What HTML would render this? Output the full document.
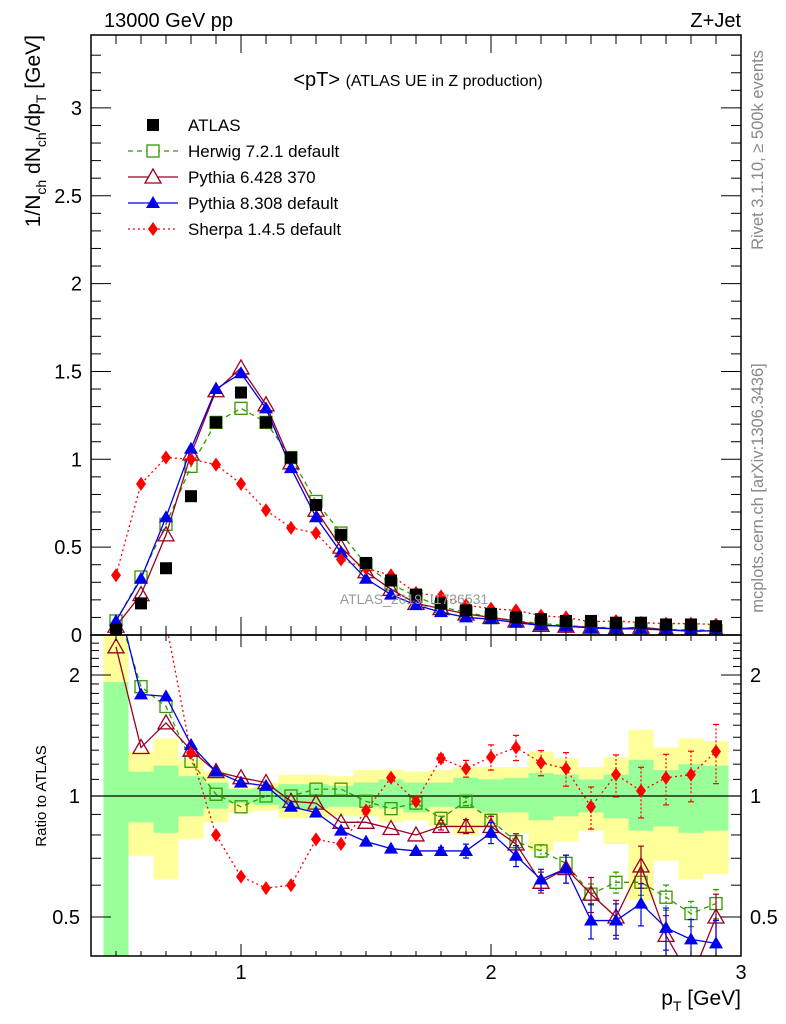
<!DOCTYPE html>
<html><head><meta charset="utf-8"><style>
html,body{margin:0;padding:0;background:#fff;}
svg{display:block;font-family:"Liberation Sans",Arial,sans-serif;}
</style></head><body>
<svg id="c" width="786" height="1024" viewBox="0 0 786 1024" xmlns="http://www.w3.org/2000/svg"></svg>
<script>
const xs=[0.5,0.6,0.7,0.8,0.9,1.0,1.1,1.2,1.3,1.4,1.5,1.6,1.7,1.8,1.9,2.0,2.1,2.2,2.3,2.4,2.5,2.6,2.7,2.8,2.9];
const atlas=[0.03,0.18,0.38,0.79,1.21,1.38,1.21,1.01,0.74,0.57,0.41,0.31,0.23,0.18,0.14,0.12,0.10,0.09,0.08,0.08,0.07,0.07,0.06,0.06,0.05];
const herwig=[0.08,0.33,0.63,0.96,1.21,1.29,1.21,1.01,0.76,0.58,0.40,0.29,0.22,0.16,0.13,0.10,0.08,0.065,0.055,0.045,0.04,0.035,0.03,0.03,0.025];
const py6=[0.05,0.23,0.57,1.03,1.39,1.52,1.31,0.98,0.71,0.50,0.36,0.26,0.18,0.15,0.12,0.10,0.08,0.055,0.05,0.045,0.035,0.045,0.03,0.02,0.025];
const py8=[0.08,0.32,0.67,1.06,1.40,1.49,1.29,0.95,0.67,0.47,0.32,0.23,0.17,0.13,0.10,0.09,0.07,0.055,0.05,0.04,0.035,0.035,0.028,0.025,0.022];
const sherpa=[0.34,0.86,1.01,1.00,0.97,0.86,0.71,0.61,0.58,0.43,0.38,0.34,0.24,0.22,0.17,0.15,0.14,0.11,0.10,0.075,0.08,0.07,0.065,0.065,0.06];
const rHerwig=[3.0,1.87,1.67,1.22,1.01,0.94,1.0,1.0,1.04,1.04,0.97,0.93,0.96,0.88,0.97,0.87,0.77,0.73,0.68,0.57,0.61,0.61,0.56,0.51,0.54];
const rPy6=[2.35,1.32,1.52,1.30,1.15,1.11,1.08,0.97,0.96,0.86,0.86,0.83,0.80,0.84,0.84,0.84,0.76,0.61,0.66,0.57,0.50,0.67,0.45,0.35,0.50];
const rPy8=[3.2,1.79,1.77,1.34,1.15,1.08,1.06,0.94,0.91,0.82,0.77,0.74,0.73,0.73,0.73,0.81,0.71,0.62,0.66,0.49,0.49,0.54,0.47,0.44,0.43];
const rSherpa=[9.0,4.7,2.7,1.28,0.80,0.63,0.59,0.60,0.78,0.76,0.92,1.11,0.97,1.24,1.17,1.25,1.32,1.21,1.17,0.94,1.13,1.03,1.11,1.13,1.29];
const rErr=[0,0,0,0,0,0,0,0,0,0,0,0,0,0.01,0.02,0.03,0.03,0.03,0.04,0.05,0.05,0.06,0.06,0.06,0.07];
const bandY1=[2.6,1.29,1.39,1.23,1.15,1.05,1.08,1.13,1.13,1.12,1.16,1.16,1.15,1.16,1.18,1.18,1.18,1.29,1.24,1.18,1.25,1.46,1.32,1.39,1.37];
const bandG1=[1.92,1.15,1.19,1.12,1.08,1.04,1.05,1.07,1.07,1.06,1.08,1.10,1.08,1.08,1.11,1.10,1.11,1.14,1.13,1.10,1.13,1.23,1.16,1.20,1.19];
const bandG0=[0.3,0.86,0.81,0.89,0.93,0.96,0.95,0.93,0.93,0.94,0.94,0.93,0.91,0.94,0.93,0.91,0.91,0.87,0.89,0.91,0.88,0.82,0.84,0.81,0.82];
const bandY0=[0.3,0.71,0.62,0.78,0.86,0.91,0.92,0.88,0.88,0.89,0.89,0.86,0.87,0.84,0.80,0.84,0.81,0.73,0.77,0.82,0.76,0.55,0.69,0.62,0.64];
const mainTicks=["0","0.5","1","1.5","2","2.5","3"];
const ratioTicks=["0.5","1","2"];
const xTicks=["1","2","3"];

const NS="http://www.w3.org/2000/svg";
const svg=document.getElementById('c');
const L=91,R=741,T=35,M=635,B=956;
const X=v=>241+250*(v-1);
const Y=v=>635-175.7*v;
const YR=v=>796-402*Math.log10(v);
function el(tag,attrs,parent){const e=document.createElementNS(NS,tag);for(const k in attrs)e.setAttribute(k,attrs[k]);(parent||svg).appendChild(e);return e;}
function txt(s,x,y,attrs,parent){const e=el('text',Object.assign({x:x,y:y},attrs),parent);e.textContent=s;return e;}

const defs=el('defs',{});
const cp1=el('clipPath',{id:'cm'},defs);el('rect',{x:L,y:T,width:R-L,height:M-T},cp1);
const cp2=el('clipPath',{id:'cr'},defs);el('rect',{x:L,y:M,width:R-L,height:B-M},cp2);

const gb=el('g',{'clip-path':'url(#cr)'});


xs.forEach((v,i)=>{
  const y1=Math.max(YR(bandY1[i]),M), y0=Math.min(YR(bandY0[i]),B);
  const r=el('rect',{x:X(v-0.05),y:y1,width:25,height:y0-y1,fill:'#ffff99'},gb);
  
  
  const g1=Math.max(YR(bandG1[i]),M), g0=Math.min(YR(bandG0[i]),B);
  const r2=el('rect',{x:X(v-0.05),y:g1,width:25,height:g0-g1,fill:'#99ff99'},gb);
  
  
});
el('line',{x1:L,x2:R,y1:796,y2:796,stroke:'#000','stroke-width':1.3});

function marker(type,x,y,col,parent){
  if(type==='sq') return el('rect',{x:x-6,y:y-6,width:12,height:12,fill:'#000'},parent);
  if(type==='osq') return el('rect',{x:x-6,y:y-6,width:12,height:12,fill:'none',stroke:col,'stroke-width':1.3},parent);
  if(type==='otri') return el('polygon',{points:`${x},${y-8} ${x-8},${y+6} ${x+8},${y+6}`,fill:'none',stroke:col,'stroke-width':1.3},parent);
  if(type==='tri') return el('polygon',{points:`${x},${y-7} ${x-7},${y+5} ${x+7},${y+5}`,fill:col},parent);
  if(type==='dia') return el('polygon',{points:`${x},${y-7} ${x-5},${y} ${x},${y+7} ${x+5},${y}`,fill:col},parent);
}
const series=[
 {name:'herwig',main:herwig,ratio:rHerwig,col:'#339900',dash:'5,4',m:'osq',ef:0.6},
 {name:'pythia6',main:py6,ratio:rPy6,col:'#990022',dash:'',m:'otri',ef:1},
 {name:'pythia8',main:py8,ratio:rPy8,col:'#0000ee',dash:'',m:'tri',ef:1},
 {name:'sherpa',main:sherpa,ratio:rSherpa,col:'#ff0000',dash:'2,3',m:'dia',ef:1.2}];
const gm=el('g',{'clip-path':'url(#cm)'});
const gr=el('g',{'clip-path':'url(#cr)'});
series.forEach(s=>{
  const g1=el('g',{},gm);
  
  
  el('polyline',{points:xs.map((v,i)=>X(v)+','+Y(s.main[i])).join(' '),fill:'none',stroke:s.col,'stroke-width':1.3,'stroke-dasharray':s.dash},g1);
  xs.forEach((v,i)=>{const m=marker(s.m,X(v),Y(s.main[i]),s.col,g1);
    
    });
  const g2=el('g',{},gr);
  
  
  el('polyline',{points:xs.map((v,i)=>X(v)+','+YR(s.ratio[i])).join(' '),fill:'none',stroke:s.col,'stroke-width':1.3,'stroke-dasharray':s.dash},g2);
  xs.forEach((v,i)=>{
    const e=rErr[i]*s.ef*s.ratio[i]*2;
    if(e>0){const x=X(v),ya=YR(s.ratio[i]+e),yb=YR(Math.max(s.ratio[i]-e,0.01));
      el('line',{x1:x,x2:x,y1:ya,y2:yb,stroke:s.col,'stroke-width':1.2,'stroke-dasharray':s.dash?'2,2':''},g2);
      el('line',{x1:x-3,x2:x+3,y1:ya,y2:ya,stroke:s.col,'stroke-width':1.2},g2);
      el('line',{x1:x-3,x2:x+3,y1:yb,y2:yb,stroke:s.col,'stroke-width':1.2},g2);}
    const m=marker(s.m,X(v),YR(s.ratio[i]),s.col,g2);
    
    });
});
const ga=el('g',{},gm);


xs.forEach((v,i)=>{const m=marker('sq',X(v),Y(atlas[i]),'#000',ga);
  
  });

el('rect',{x:L,y:T,width:R-L,height:M-T,fill:'none',stroke:'#000','stroke-width':1.5});
el('rect',{x:L,y:M,width:R-L,height:B-M,fill:'none',stroke:'#000','stroke-width':1.5});

for(let k=4;k<=29;k++){const v=k/10,x=X(v),maj=(k%10===0);
  [[T,1,maj?18:9],[M,-1,maj?18:9],[M,1,maj?12:6],[B,-1,maj?12:5]].forEach(([y,d,h])=>el('line',{x1:x,x2:x,y1:y,y2:y+d*h,stroke:'#000','stroke-width':1}));}
xTicks.forEach(t=>{const e=txt(t,X(+t),979,{'font-size':20,'text-anchor':'middle'});
  
  });
for(let k=0;k<=33;k++){const v=k/10,y=Y(v),maj=(k%5===0),h=maj?20:10;
  el('line',{x1:L,x2:L+h,y1:y,y2:y,stroke:'#000'});el('line',{x1:R,x2:R-h,y1:y,y2:y,stroke:'#000'});}
mainTicks.forEach(t=>{const e=txt(t,82,Y(+t)+7,{'font-size':20,'text-anchor':'end'});
  
  });
[0.4,0.5,0.6,0.7,0.8,0.9,1,2].forEach(v=>{const y=YR(v),maj=(v===0.5||v===1||v===2),h=maj?20:10;
  el('line',{x1:L,x2:L+h,y1:y,y2:y,stroke:'#000'});el('line',{x1:R,x2:R-h,y1:y,y2:y,stroke:'#000'});});
[1.1,1.2,1.3,1.4,1.5,1.6,1.7,1.8,1.9,2.1,2.2,2.3,2.4].forEach(v=>{const y=YR(v);
  el('line',{x1:R,x2:R-8,y1:y,y2:y,stroke:'#000'});el('line',{x1:L,x2:L+8,y1:y,y2:y,stroke:'#000'});});
ratioTicks.forEach(t=>{
  const e=txt(t,80,YR(+t)+7,{'font-size':20,'text-anchor':'end'});
  
  
  const e2=txt(t,750,YR(+t)+7,{'font-size':20});
  
  });

const leg=el('g',{});


const legItems=[['ATLAS','sq','#000',null],['Herwig 7.2.1 default','osq','#339900','5,4'],['Pythia 6.428 370','otri','#990022',''],['Pythia 8.308 default','tri','#0000ee',''],['Sherpa 1.4.5 default','dia','#ff0000','2,3']];
legItems.forEach((it,i)=>{const y=125+26*i;const g=el('g',{},leg);
  
  
  if(it[3]!==null) el('line',{x1:128,x2:178,y1:y,y2:y,stroke:it[2],'stroke-width':1.3,'stroke-dasharray':it[3]},g);
  const m=marker(it[1],153,y,it[2],g);
  if(it[1]==='osq'||it[1]==='otri'){m.setAttribute('fill','#fff');}
  txt(it[0],188,y+6,{'font-size':17},g);});
</script>
<script>
(function(){
const NS="http://www.w3.org/2000/svg",svg=document.getElementById('c');
function t(s,attrs,name){const e=document.createElementNS(NS,'text');for(const k in attrs)e.setAttribute(k,attrs[k]);e.innerHTML=s;svg.appendChild(e);
  
  return e;}
t('13000 GeV pp',{x:104,y:27,'font-size':20},'energy-label');
t('Z+Jet',{x:741,y:27,'font-size':20,'text-anchor':'end'},'process-label');
t('&lt;pT&gt; <tspan font-size="16">(ATLAS UE in Z production)</tspan>',{x:418,y:86,'font-size':20,'text-anchor':'middle'},'plot-title');
t('ATLAS_2019_I1736531',{x:414,y:604,'font-size':14,fill:'#999','text-anchor':'middle'},'analysis-watermark');
t('Rivet 3.1.10, ≥ 500k events',{x:0,y:0,'font-size':16.5,fill:'#888','text-anchor':'middle',transform:'translate(763,150) rotate(-90)'},'rivet-label');
t('mcplots.cern.ch [arXiv:1306.3436]',{x:0,y:0,'font-size':16.5,fill:'#888','text-anchor':'middle',transform:'translate(763,488) rotate(-90)'},'mcplots-label');
t('1/N<tspan font-size="14" dy="6">ch</tspan><tspan dy="-6"> dN</tspan><tspan font-size="14" dy="6">ch</tspan><tspan dy="-6">/dp</tspan><tspan font-size="14" dy="6">T</tspan><tspan dy="-6"> [GeV]</tspan>',{x:0,y:0,'font-size':21,'text-anchor':'end',transform:'translate(40,35) rotate(-90)'},'y-axis-title');
t('Ratio to ATLAS',{x:0,y:0,'font-size':15,'text-anchor':'middle',transform:'translate(46,796) rotate(-90)'},'ratio-axis-title');
t('p<tspan font-size="14" dy="6">T</tspan><tspan dy="-6"> [GeV]</tspan>',{x:741,y:1005,'font-size':21,'text-anchor':'end'},'x-axis-title');
})();
</script>
</body></html>
